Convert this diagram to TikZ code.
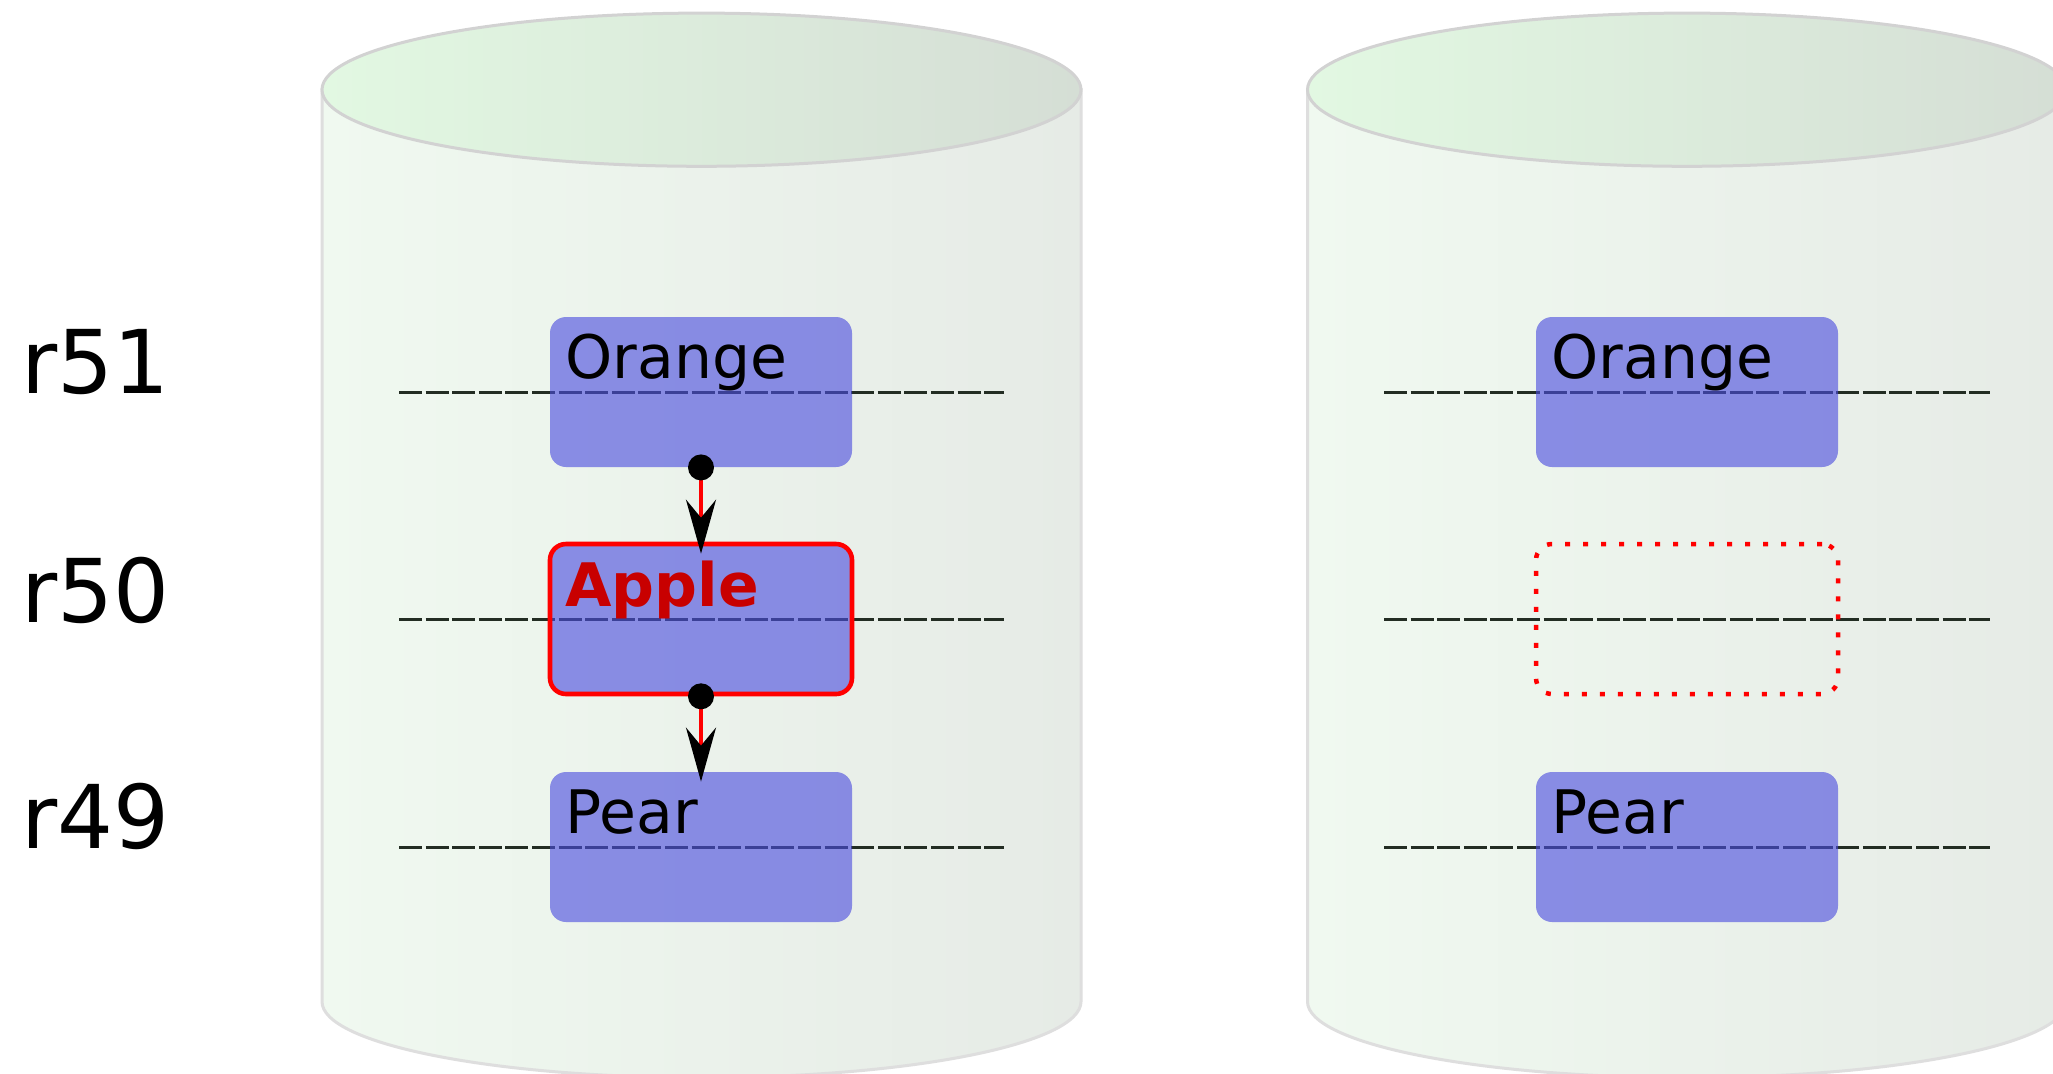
\documentclass[tikz,border=0pt]{standalone}
\usepackage{fontspec}
\setmainfont{DejaVu Sans}
\usetikzlibrary{arrows.meta}
\definecolor{boxblue}{RGB}{75,77,223}
\definecolor{cylL}{RGB}{240,249,240}
\definecolor{cylR}{RGB}{230,235,230}
\definecolor{topL}{RGB}{226,248,226}
\definecolor{topR}{RGB}{213,222,213}
\definecolor{cylEdge}{RGB}{222,222,222}
\definecolor{topEdge}{RGB}{210,210,210}
\definecolor{lineC}{RGB}{35,45,35}
\definecolor{appleRed}{RGB}{200,0,0}
\tikzset{
  cylside/.style={left color=cylL, right color=cylR, draw=cylEdge, line width=1.5pt},
  cyltop/.style={left color=topL, right color=topR, draw=topEdge, line width=1.5pt},
  rowline/.style={draw=lineC, line width=1.5pt, dash pattern=on 11.5pt off 1.8pt},
  fruit/.style={rectangle, rounded corners=8pt, fill=boxblue, fill opacity=0.62, minimum width=151pt, minimum height=75pt, inner sep=0pt},
  chosen/.style={fruit, draw=red, draw opacity=1, line width=2.3pt},
  gone/.style={rectangle, rounded corners=8pt, draw=red, line width=2.25pt, dash pattern=on 2.5pt off 6.5pt, minimum width=151pt, minimum height=75pt, inner sep=0pt},
  fruitlbl/.style={anchor=base west, inner sep=0pt, font=\fontsize{30pt}{36pt}\selectfont},
  rowlbl/.style={anchor=base west, inner sep=0pt, font=\fontsize{44pt}{52pt}\selectfont},
  link/.style={draw=red, line width=2pt, -{Stealth[black, length=27pt, width=15pt, inset=9pt]}, shorten >=-6pt},
  dotc/.style={fill=black}
}
\begin{document}
\begin{tikzpicture}[x=0.5pt,y=-0.5pt]
\clip (0,0) rectangle (2053,1073);
\path[fill=white] (0,0) rectangle (2053,1073);
% left cylinder
\path[cylside] (322,89.7) -- (322,1001.6) arc[start angle=180, end angle=360, x radius=189.75pt, y radius=38pt] -- (1081,89.7) -- cycle;
\path[cyltop] (701.5,89.7) ellipse [x radius=189.75pt, y radius=38.3pt];
% right cylinder
\path[cylside] (1307.5,89.7) -- (1307.5,1001.6) arc[start angle=180, end angle=360, x radius=189.75pt, y radius=38pt] -- (2066.5,89.7) -- cycle;
\path[cyltop] (1687,89.7) ellipse [x radius=189.75pt, y radius=38.3pt];
% row lines
\draw[rowline] (399,392) -- (1004,392);
\draw[rowline] (399,619) -- (1004,619);
\draw[rowline] (399,847) -- (1004,847);
\draw[rowline] (1384,392) -- (1990,392);
\draw[rowline] (1384,619) -- (1990,619);
\draw[rowline] (1384,847) -- (1990,847);
% row labels
\node[rowlbl] (r51) at (21,393) {r51};
\node[rowlbl] (r50) at (21,622) {r50};
\node[rowlbl] (r49) at (21,848) {r49};
% left boxes
\node[fruit] (o1) at (701,392) {};
\node[chosen] (a1) at (701,619) {};
\node[fruit] (p1) at (701,847) {};
\node[fruitlbl] (to1) at (565,378) {Orange};
\node[fruitlbl, text=appleRed, font=\fontsize{30pt}{36pt}\selectfont\bfseries] (ta1) at (565,606) {Apple};
\node[fruitlbl] (tp1) at (565,833) {Pear};
% right boxes
\node[fruit] (o2) at (1687,392) {};
\node[gone] (a2) at (1687,619) {};
\node[fruit] (p2) at (1687,847) {};
\node[fruitlbl] (to2) at (1551,378) {Orange};
\node[fruitlbl] (tp2) at (1551,833) {Pear};
% links
\draw[link] (o1.south) -- (a1.north);
\draw[link, shorten >=-5pt] (a1.south) -- (p1.north);
\fill[dotc] (o1.south) circle[radius=6.5pt];
\fill[dotc] (a1.south) circle[radius=6.5pt];
\end{tikzpicture}
\end{document}
